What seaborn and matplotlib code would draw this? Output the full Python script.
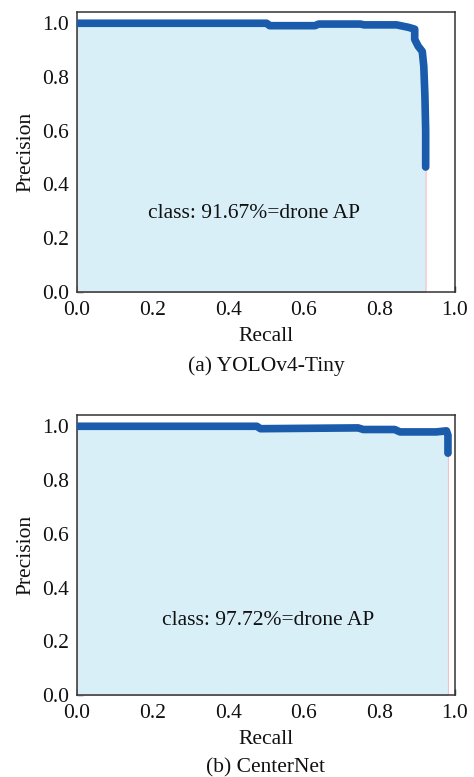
import matplotlib
matplotlib.use('Agg')
import matplotlib.pyplot as plt
import seaborn as sns
import pandas as pd

# PR curve of YOLOv4-Tiny
yolo_recall = [0.0, 0.10, 0.20, 0.30, 0.40, 0.502, 0.51, 0.63, 0.64, 0.75, 0.76, 0.846,
               0.877, 0.894, 0.894, 0.903, 0.914, 0.918, 0.921, 0.923, 0.923]
yolo_precision = [1.0, 1.0, 1.0, 1.0, 1.0, 1.0, 0.991, 0.991, 0.997, 0.997, 0.994, 0.994,
                  0.985, 0.978, 0.94, 0.915, 0.895, 0.84, 0.73, 0.60, 0.465]

# PR curve of CenterNet
center_recall = [0.0, 0.10, 0.20, 0.30, 0.40, 0.476, 0.486, 0.744, 0.758, 0.841,
                 0.855, 0.951, 0.978, 0.982, 0.982]
center_precision = [1.0, 1.0, 1.0, 1.0, 1.0, 1.0, 0.991, 0.994, 0.988, 0.988,
                    0.979, 0.979, 0.983, 0.967, 0.90]

panels = [
    ("(a) YOLOv4-Tiny", "class: 91.67%=drone AP", yolo_recall, yolo_precision, (0.469, 0.292)),
    ("(b) CenterNet", "class: 97.72%=drone AP", center_recall, center_precision, (0.507, 0.279)),
]

sns.set_theme(style="ticks")
plt.rcParams['font.family'] = ['Liberation Serif', 'DejaVu Serif']

FS = 15.5
fig = plt.figure(figsize=(4.74, 7.77), dpi=100)
axes_pos = [[0.1624, 0.6242, 0.797, 0.3604],
            [0.1624, 0.1055, 0.797, 0.3604]]
caption_y = [0.529, 0.012]

line_color = '#1a5cab'
fill_color = '#d9eff8'
text_color = '#111111'

for i, (caption, note, rec, prec, note_xy) in enumerate(panels):
    ax = fig.add_axes(axes_pos[i])
    df = pd.DataFrame({'Recall': rec, 'Precision': prec})

    # area under curve with a faint red edge like the mAP tool draws
    ax.fill_between(df['Recall'], 0, df['Precision'], facecolor=fill_color,
                    edgecolor=(1.0, 0.6, 0.65, 0.6), linewidth=0.8, zorder=1)
    sns.lineplot(data=df, x='Recall', y='Precision', ax=ax, sort=False,
                 estimator=None, color=line_color, linewidth=5.5, zorder=3,
                 solid_capstyle='round', solid_joinstyle='round')

    ax.set_xlim(0, 1.0)
    ax.set_ylim(0, 1.042)
    ax.set_xticks([0.0, 0.2, 0.4, 0.6, 0.8, 1.0])
    ax.set_yticks([0.0, 0.2, 0.4, 0.6, 0.8, 1.0])
    ax.set_xticklabels([f"{t:.1f}" for t in ax.get_xticks()])
    ax.set_yticklabels([f"{t:.1f}" for t in ax.get_yticks()])
    ax.tick_params(direction='in', length=4, width=1, colors='#333333',
                   labelcolor=text_color, labelsize=FS)
    ax.tick_params(axis='x', pad=6.5)
    ax.tick_params(axis='y', pad=5.5)
    for sp in ax.spines.values():
        sp.set_color('#333333')
        sp.set_linewidth(1.1)

    ax.set_xlabel('Recall', fontsize=FS, color=text_color, labelpad=5)
    ax.set_ylabel('Precision', fontsize=FS, color=text_color, labelpad=5)
    ax.text(note_xy[0], note_xy[1], note, fontsize=FS, color=text_color,
            ha='center', va='center', zorder=4)

    fig.text(0.561, caption_y[i], caption, fontsize=FS, color=text_color,
             ha='center', va='center')

fig.savefig('out.png', dpi=100)
plt.close(fig)
